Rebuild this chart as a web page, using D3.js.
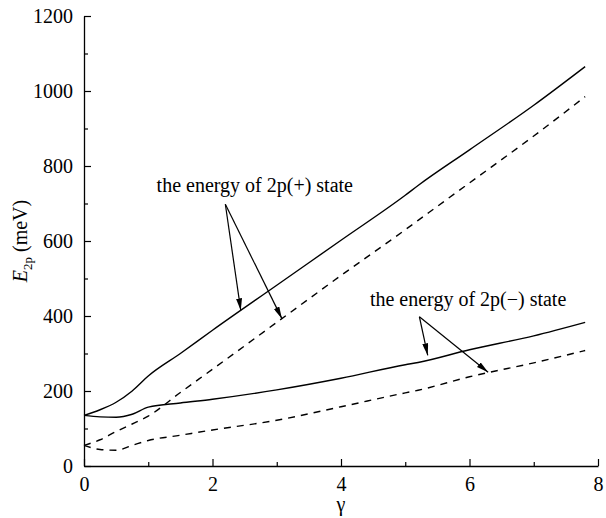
<!DOCTYPE html>
<html>
<head>
<meta charset="utf-8">
<script src="https://cdn.jsdelivr.net/npm/d3@7"></script>
<style>
  body { margin: 0; background: #fff; }
  svg { display: block; }
  text { font-family: "Liberation Serif", "DejaVu Serif", serif; fill: #000; }
</style>
</head>
<body>
<svg id="chart" width="606" height="518"></svg>
<script>
// values (gamma, meV)
const gamma = [0, 0.25, 0.5, 0.75, 1.0, 1.5, 2, 3, 4, 5, 5.2, 6, 7, 7.8];
const plusSolid  = [135, 150, 170, 200, 240, 300, 362, 482, 602, 722, 748, 843, 962, 1065];
const plusDash   = [55, 70, 92, 112, 133, 196, 258, 383, 508, 630, 655, 755, 880, 985];
const minusSolid = [135, 131, 130, 138, 157, 168, 178, 203, 234, 270, 276, 310, 347, 383];
const minusDash  = [55, 44, 42, 55, 68, 82, 96, 122, 158, 195, 202, 238, 275, 308];

const xTicks = [0, 2, 4, 6, 8];
const yTicks = [0, 200, 400, 600, 800, 1000, 1200];

// annotations: label anchor, arrow start, arrow ends (data coords)
const notes = [
  { text: "the energy of 2p(+) state", at: [1.13, 730], from: [2.2, 698], to: [[2.44, 415], [3.08, 393]] },
  { text: "the energy of 2p(\u2212) state", at: [4.45, 428], from: [5.22, 398], to: [[5.35, 295], [6.29, 250]] }
];

const margin = { top: 16, right: 8, bottom: 52, left: 84 };
const width = 606 - margin.left - margin.right;
const height = 518 - margin.top - margin.bottom;

const svg = d3.select("#chart");
const g = svg.append("g").attr("transform", `translate(${margin.left},${margin.top})`);

const x = d3.scaleLinear().domain([0, 8]).range([0, width]);
const y = d3.scaleLinear().domain([0, 1200]).range([height, 0]);

// axes, ticks pointing inward (minor ticks in their own group)
g.append("g").attr("transform", `translate(0,${height})`)
  .call(d3.axisBottom(x).tickValues(d3.range(1, 8, 2)).tickSize(-4).tickFormat(""))
  .call(a => a.select(".domain").remove());
g.append("g")
  .call(d3.axisLeft(y).tickValues(d3.range(100, 1200, 200)).tickSize(-4).tickFormat(""))
  .call(a => a.select(".domain").remove());

const xAxis = g.append("g").attr("transform", `translate(0,${height})`)
  .call(d3.axisBottom(x).tickValues(xTicks).tickFormat(d3.format("d"))
    .tickSizeInner(-7).tickSizeOuter(0).tickPadding(11));
const yAxis = g.append("g")
  .call(d3.axisLeft(y).tickValues(yTicks).tickFormat(d3.format("d"))
    .tickSizeInner(-7).tickSizeOuter(0).tickPadding(11));

g.selectAll(".domain").attr("stroke", "#000").attr("stroke-width", 1.3);
g.selectAll(".tick line").attr("stroke", "#000").attr("stroke-width", 1.2);
g.selectAll(".tick text")
  .style("font-family", "'Liberation Serif', serif")
  .style("font-size", "20px");
xAxis.selectAll(".tick text").attr("dy", "0.71em");

// curves
const line = d3.line()
  .x((d, i) => x(gamma[i]))
  .y(d => y(d))
  .curve(d3.curveMonotoneX);

[
  { values: plusSolid, dash: null },
  { values: plusDash, dash: "7,6" },
  { values: minusSolid, dash: null },
  { values: minusDash, dash: "7,6" }
].forEach(s => {
  g.append("path")
    .attr("d", line(s.values))
    .attr("fill", "none")
    .attr("stroke", "#000")
    .attr("stroke-width", 1.4)
    .attr("stroke-dasharray", s.dash);
});

// arrowhead
svg.append("defs").append("marker")
  .attr("id", "arrow")
  .attr("viewBox", "0 0 12 6")
  .attr("refX", 12).attr("refY", 3)
  .attr("markerWidth", 12).attr("markerHeight", 6)
  .attr("markerUnits", "userSpaceOnUse")
  .attr("orient", "auto")
  .append("path")
  .attr("d", "M0,0L12,3L0,6Z")
  .attr("fill", "#000");

notes.forEach(n => {
  g.append("text")
    .attr("x", x(n.at[0]))
    .attr("y", y(n.at[1]))
    .style("font-size", "20px")
    .text(n.text);
  n.to.forEach(t => {
    g.append("line")
      .attr("x1", x(n.from[0])).attr("y1", y(n.from[1]))
      .attr("x2", x(t[0])).attr("y2", y(t[1]))
      .attr("stroke", "#000")
      .attr("stroke-width", 1.2)
      .attr("marker-end", "url(#arrow)");
  });
});

// axis titles
g.append("text")
  .attr("x", x(4))
  .attr("y", height + 45)
  .attr("text-anchor", "middle")
  .style("font-size", "20px")
  .text("\u03b3");

const yl = svg.append("text")
  .attr("transform", `translate(27,${margin.top + y(600)}) rotate(-90)`)
  .attr("text-anchor", "middle")
  .style("font-size", "20px");
yl.append("tspan").attr("font-style", "italic").text("E");
yl.append("tspan").style("font-size", "13px").attr("dy", 5).text("2p");
yl.append("tspan").attr("dy", -5).text(" (meV)");
</script>
</body>
</html>
